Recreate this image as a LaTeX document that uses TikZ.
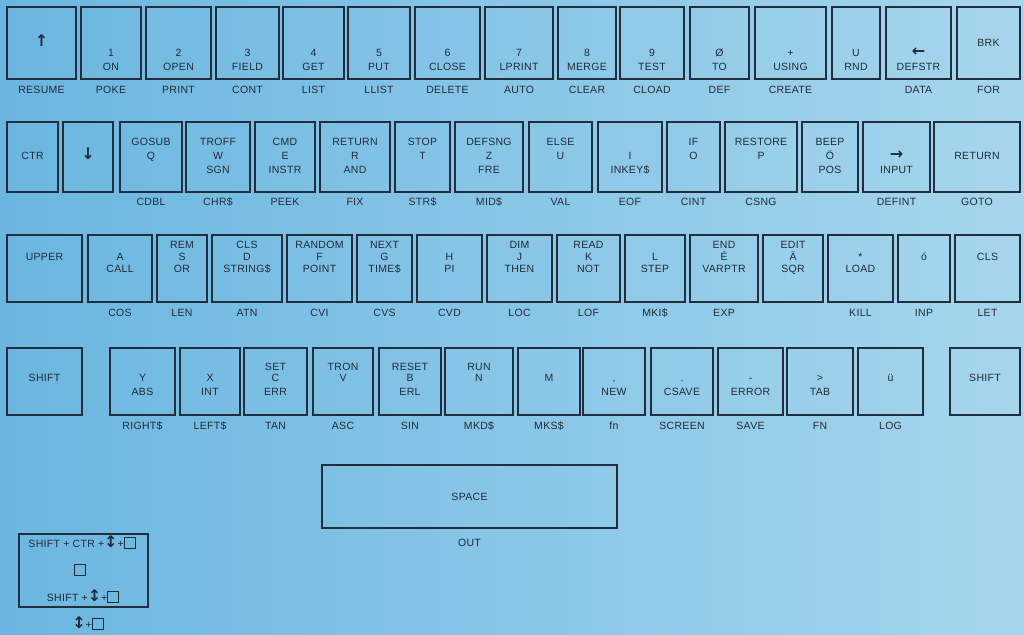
\documentclass[tikz,border=0pt]{standalone}
\usepackage{fontspec}
\setmainfont[LetterSpace=3]{Liberation Sans}
\newfontfamily\arrowfont{DejaVu Sans}
\usepackage{xcolor}
\usepackage{tikz}
\usetikzlibrary{positioning}

\definecolor{keyline}{RGB}{34,46,62}
\definecolor{keytext}{RGB}{34,42,56}
\definecolor{bgleft}{RGB}{106,182,224}
\definecolor{bgright}{RGB}{166,214,237}

\newcommand{\arr}[1]{{\arrowfont\bfseries\fontsize{16}{16}\selectfont #1}}
\newcommand{\sq}{{\setlength\fboxsep{0pt}\setlength\fboxrule{0.9pt}\fbox{\rule{0pt}{10pt}\rule{10pt}{0pt}}}}

\begin{document}
\begin{tikzpicture}[
			x=1pt, y=-1pt,
			every node/.style={font=\fontsize{10.5}{12}\selectfont, text=keytext},
			%% Key styles
			keybox/.style={rectangle, draw=keyline, line width=1.8pt, inner sep=0pt},
			keytxt/.style={inner sep=0pt, text height=7.5pt, text depth=0pt},
			keylbl/.style={keytxt},
			]
			
			%% ── Background ───────────────────────────────────────────────────
			\useasboundingbox (0,0) rectangle (1024,634);
			\fill[left color=bgleft, right color=bgright] (0,0) rectangle (1024,634);
			
			%% ── Row 1 ────────────────────────────────────────────────────────
			\foreach \id/\xl/\xr/\ta/\tb/\tc/\lab [evaluate=\xl as \xc using (\xl+\xr)/2] in {
				a/7/76/{\arr{↑}}/{}/{}/RESUME,
				b/81/141/{}/1/ON/POKE,
				c/146/211/{}/2/OPEN/PRINT,
				d/216/279/{}/3/FIELD/CONT,
				e/283/344/{}/4/GET/LIST,
				f/348/410/{}/5/PUT/LLIST,
				g/415/480/{}/6/CLOSE/DELETE,
				h/485/553/{}/7/LPRINT/AUTO,
				i/558/616/{}/8/MERGE/CLEAR,
				j/620/684/{}/9/TEST/CLOAD,
				k/690/749/{}/Ø/TO/DEF,
				l/755/826/{}/+/USING/CREATE,
				m/832/880/{}/U/RND/{},
				n/886/951/{}/{\arr{←}}/DEFSTR/DATA,
				o/957/1020/BRK/{}/{}/FOR}{
				\node[keybox, minimum width=(\xr-\xl)*1pt, minimum height=72pt] (k1\id) at (\xc,43) {};
				\node[keytxt] (k1\id-top) at (\xc,43) {\ta};
				\node[keytxt] (k1\id-mid) at (\xc,53) {\tb};
				\node[keytxt] (k1\id-bot) at (\xc,67) {\tc};
				\node[keylbl, below=6pt of k1\id] (k1\id-lbl) {\lab};
			}
			
			%% ── Row 2 ────────────────────────────────────────────────────────
			\foreach \id/\xl/\xr/\ta/\tb/\tc/\lab [evaluate=\xl as \xc using (\xl+\xr)/2] in {
				a/7/58/{}/CTR/{}/{},
				b/63/113/{}/{\arr{↓}}/{}/{},
				c/120/182/GOSUB/Q/{}/CDBL,
				d/186/250/TROFF/W/SGN/CHR\$,
				e/255/315/CMD/E/INSTR/PEEK,
				f/320/390/RETURN/R/AND/FIX,
				g/395/450/STOP/T/{}/STR\$,
				h/455/523/DEFSNG/Z/FRE/MID\$,
				i/529/592/ELSE/U/{}/VAL,
				j/598/662/{}/I/INKEY\$/EOF,
				k/667/720/IF/O/{}/CINT,
				l/725/797/RESTORE/P/{}/CSNG,
				m/802/858/BEEP/Ö/POS/{},
				n/863/930/{}/{\arr{→}}/INPUT/DEFINT,
				o/934/1020/{}/RETURN/{}/GOTO}{
				\node[keybox, minimum width=(\xr-\xl)*1pt, minimum height=70pt] (k2\id) at (\xc,157) {};
				\node[keytxt] (k2\id-top) at (\xc,142) {\ta};
				\node[keytxt] (k2\id-mid) at (\xc,156) {\tb};
				\node[keytxt] (k2\id-bot) at (\xc,170) {\tc};
				\node[keylbl, below=5pt of k2\id] (k2\id-lbl) {\lab};
			}
			
			%% ── Row 3 ────────────────────────────────────────────────────────
			\foreach \id/\xl/\xr/\ta/\tb/\tc/\lab [evaluate=\xl as \xc using (\xl+\xr)/2] in {
				a/7/82/{}/UPPER/{}/{},
				b/88/152/{}/A/CALL/COS,
				c/157/207/REM/S/OR/LEN,
				d/212/282/CLS/D/STRING\$/ATN,
				e/287/352/RANDOM/F/POINT/CVI,
				f/357/412/NEXT/G/TIME\$/CVS,
				g/417/482/{}/H/PI/CVD,
				h/487/552/DIM/J/THEN/LOC,
				i/557/620/READ/K/NOT/LOF,
				j/625/685/{}/L/STEP/MKI\$,
				k/690/758/END/É/VARPTR/EXP,
				l/763/823/EDIT/Ä/SQR/{},
				m/828/893/{}/*/LOAD/KILL,
				n/898/950/{}/ó/{}/INP,
				o/955/1020/{}/CLS/{}/LET}{
				\node[keybox, minimum width=(\xr-\xl)*1pt, minimum height=67pt] (k3\id) at (\xc,268.5) {};
				\node[keytxt] (k3\id-top) at (\xc,245) {\ta};
				\node[keytxt] (k3\id-mid) at (\xc,257) {\tb};
				\node[keytxt] (k3\id-bot) at (\xc,269) {\tc};
				\node[keylbl, below=6pt of k3\id] (k3\id-lbl) {\lab};
			}
			
			%% ── Row 4 ────────────────────────────────────────────────────────
			\foreach \id/\xl/\xr/\ta/\tb/\tc/\lab [evaluate=\xl as \xc using (\xl+\xr)/2] in {
				a/7/82/{}/SHIFT/{}/{},
				b/110/175/{}/Y/ABS/RIGHT\$,
				c/180/240/{}/X/INT/LEFT\$,
				d/244/307/SET/C/ERR/TAN,
				e/313/373/TRON/V/{}/ASC,
				f/379/441/RESET/B/ERL/SIN,
				g/445/513/RUN/N/{}/MKD\$,
				h/518/580/{}/M/{}/MKS\$,
				i/583/645/{}/{,}/NEW/fn,
				j/651/713/{}/./CSAVE/SCREEN,
				k/718/783/{}/-/ERROR/SAVE,
				l/787/853/{}/>/TAB/FN,
				m/858/923/{}/ü/{}/LOG,
				n/950/1020/{}/SHIFT/{}/{}}{
				\node[keybox, minimum width=(\xr-\xl)*1pt, minimum height=67pt] (k4\id) at (\xc,381.5) {};
				\node[keytxt] (k4\id-top) at (\xc,367) {\ta};
				\node[keytxt] (k4\id-mid) at (\xc,378) {\tb};
				\node[keytxt] (k4\id-bot) at (\xc,392) {\tc};
				\node[keylbl, below=6pt of k4\id] (k4\id-lbl) {\lab};
			}
			
			%% ── Space bar ────────────────────────────────────────────────────
			\node[keybox, keytxt, minimum width=295pt, minimum height=63pt] (space) at (469.5,496.5) {SPACE};
			\node[keylbl, below=10pt of space] (space-lbl) {OUT};
			
			%% ── Legend ───────────────────────────────────────────────────────
			\node[keybox, line width=1.5pt, minimum width=129pt, minimum height=73pt] (legend) at (83.5,570.5) {};
			\node[keytxt] (legend-a) at (82,544) {SHIFT + CTR +\arr{↕}+\sq};
			\node[keytxt] (legend-b) at (80,571) {\sq};
			\node[keytxt] (legend-c) at (83,598) {SHIFT +\arr{↕}+\sq};
			\node[keytxt] (legend-d) at (88,625) {\arr{↕}+\sq};
			
		\end{tikzpicture}
\end{document}
